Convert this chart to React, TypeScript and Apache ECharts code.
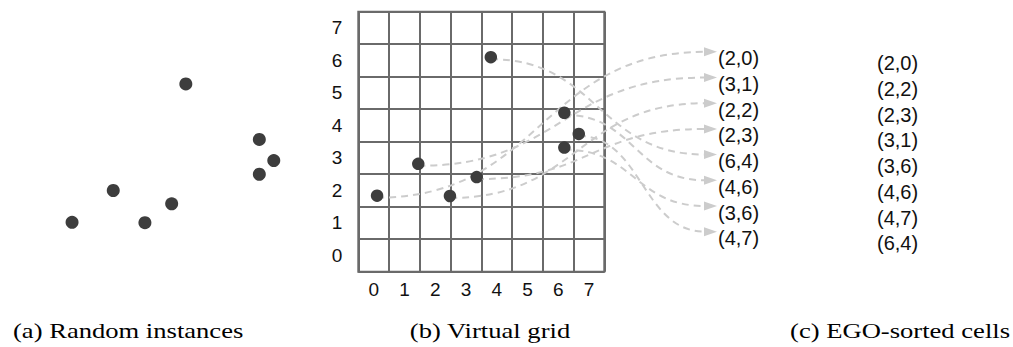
import React, { useEffect, useRef } from "react";
import * as echarts from "echarts";

// ---- data ----
const cellTicks = ["0", "1", "2", "3", "4", "5", "6", "7"];
// instance coordinates in grid units, ordered by column (panel b label order)
const pointX = [0.61, 1.95, 2.98, 3.85, 4.31, 6.7, 6.7, 7.17];
const pointY = [2.34, 3.32, 2.33, 2.91, 6.6, 4.89, 3.82, 4.24];
const gridLabels = ["(2,0)", "(3,1)", "(2,2)", "(2,3)", "(6,4)", "(4,6)", "(3,6)", "(4,7)"];
const sortedCells = ["(2,0)", "(2,2)", "(2,3)", "(3,1)", "(3,6)", "(4,6)", "(4,7)", "(6,4)"];
const captions = ["(a) Random instances", "(b) Virtual grid", "(c) EGO-sorted cells"];

// ---- layout / style ----
const W = 1013;
const H = 347;
const GRID_W = 246;
const GRID_H = 260;
const B_LEFT = 358.3;
const B_TOP = 11.7;
const A_LEFT = B_LEFT - 305;
const A_TOP = B_TOP + 26.7;
const ROW_STEP = 25.7;
const SANS = '"Liberation Sans", Arial, Helvetica, sans-serif';
const SERIF = '"Liberation Serif", "Times New Roman", serif';
const LINE_COLOR = "#6a6a6a";
const DOT_COLOR = "#3d3d3d";
const DASH_COLOR = "#cccccc";

export default function App() {
  const ref = useRef<HTMLDivElement>(null);

  useEffect(() => {
    if (!ref.current) return;
    const chart = echarts.init(ref.current, null, { renderer: "svg" });
    const pts = pointX.map((x, i) => [x, pointY[i]]);

    const tipX = B_LEFT + GRID_W + 112.7;

    const option: any = {
      animation: false,
      backgroundColor: "#ffffff",
      grid: [
        { left: A_LEFT, top: A_TOP, width: GRID_W, height: GRID_H, show: false, outerBoundsMode: "none" },
        {
          left: B_LEFT,
          top: B_TOP,
          width: GRID_W,
          height: GRID_H,
          show: true,
          borderColor: LINE_COLOR,
          borderWidth: 2,
          backgroundColor: "transparent",
          outerBoundsMode: "none",
        },
      ],
      xAxis: [
        { type: "value", gridIndex: 0, min: 0, max: 8, show: false },
        {
          type: "value",
          gridIndex: 1,
          position: "top",
          min: 0,
          max: 8,
          interval: 1,
          axisLine: { show: false },
          axisTick: { show: false },
          axisLabel: { show: false },
          splitLine: { show: true, lineStyle: { color: LINE_COLOR, width: 2 } },
        },
        {
          type: "category",
          gridIndex: 1,
          position: "bottom",
          data: cellTicks,
          boundaryGap: true,
          axisLine: { show: false },
          axisTick: { show: false },
          splitLine: { show: false },
          axisLabel: { fontSize: 19, color: "#111", margin: 8, fontFamily: SANS },
        },
      ],
      yAxis: [
        { type: "value", gridIndex: 0, min: 0, max: 8, show: false },
        {
          type: "value",
          gridIndex: 1,
          position: "right",
          min: 0,
          max: 8,
          interval: 1,
          axisLine: { show: false },
          axisTick: { show: false },
          axisLabel: { show: false },
          splitLine: { show: true, lineStyle: { color: LINE_COLOR, width: 2 } },
        },
        {
          type: "category",
          gridIndex: 1,
          position: "left",
          data: cellTicks,
          boundaryGap: true,
          axisLine: { show: false },
          axisTick: { show: false },
          splitLine: { show: false },
          axisLabel: { fontSize: 19, color: "#111", margin: 16, fontFamily: SANS },
        },
      ],
      series: [
        {
          type: "scatter",
          xAxisIndex: 0,
          yAxisIndex: 0,
          data: pts,
          symbol: "circle",
          symbolSize: 13,
          itemStyle: { color: DOT_COLOR, opacity: 1 },
          silent: true,
        },
        {
          type: "custom",
          xAxisIndex: 1,
          yAxisIndex: 1,
          data: pts,
          z: 3,
          silent: true,
          renderItem: (params: any, api: any) => {
            const i = params.dataIndex;
            const p = api.coord([api.value(0), api.value(1)]);
            const textY = B_TOP + 46.6 + i * ROW_STEP;
            const tipY = textY - 6.5;
            const endX = tipX - 12;
            const dx = (endX - p[0]) * 0.5;
            const sy = p[1] + 2;
            return {
              type: "group",
              children: [
                {
                  type: "bezierCurve",
                  shape: {
                    x1: p[0],
                    y1: sy,
                    x2: endX,
                    y2: tipY,
                    cpx1: p[0] + dx,
                    cpy1: sy,
                    cpx2: endX - dx,
                    cpy2: tipY,
                  },
                  style: { stroke: DASH_COLOR, lineWidth: 2, lineDash: [7, 5], fill: "none" },
                },
                {
                  type: "polygon",
                  shape: {
                    points: [
                      [tipX, tipY],
                      [tipX - 13, tipY - 4.5],
                      [tipX - 13, tipY + 4.5],
                    ],
                  },
                  style: { fill: DASH_COLOR, stroke: "none" },
                },
                {
                  type: "text",
                  x: tipX + 1,
                  y: textY,
                  style: {
                    text: gridLabels[i],
                    fontSize: 20,
                    fontFamily: SANS,
                    fill: "#111",
                    align: "left",
                    verticalAlign: "middle",
                  },
                },
              ],
            };
          },
        },
        {
          type: "scatter",
          xAxisIndex: 1,
          yAxisIndex: 1,
          data: pts,
          symbol: "circle",
          symbolSize: 12.5,
          z: 5,
          itemStyle: { color: DOT_COLOR, opacity: 1 },
          silent: true,
        },
      ],
      graphic: [
        ...sortedCells.map((t, i) => ({
          type: "text",
          x: 877,
          y: B_TOP + 51.6 + i * ROW_STEP,
          silent: true,
          style: {
            text: t,
            fontSize: 20,
            fontFamily: SANS,
            fill: "#111",
            align: "left",
            verticalAlign: "middle",
          },
        })),
        {
          type: "text",
          x: 13,
          y: 331,
          scaleX: 1.33,
          silent: true,
          style: { text: captions[0], fontSize: 20, fontFamily: SERIF, fill: "#000", align: "left", verticalAlign: "middle" },
        },
        {
          type: "text",
          x: 490,
          y: 331,
          scaleX: 1.33,
          silent: true,
          style: { text: captions[1], fontSize: 20, fontFamily: SERIF, fill: "#000", align: "center", verticalAlign: "middle" },
        },
        {
          type: "text",
          x: 1010,
          y: 331,
          scaleX: 1.33,
          silent: true,
          style: { text: captions[2], fontSize: 20, fontFamily: SERIF, fill: "#000", align: "right", verticalAlign: "middle" },
        },
      ],
    };

    chart.setOption(option);
    return () => chart.dispose();
  }, []);

  return (
    <div
      ref={ref}
      style={{ position: "absolute", left: 0, top: 0, width: W, height: H }}
    />
  );
}
